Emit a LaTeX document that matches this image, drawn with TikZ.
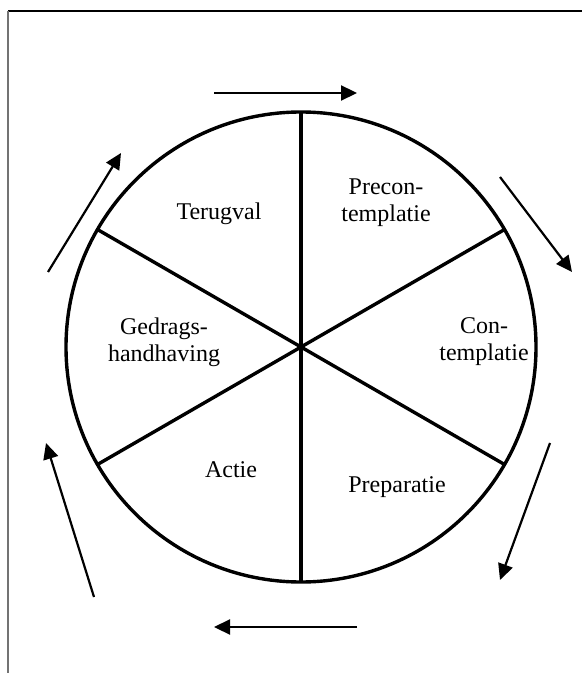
\documentclass[tikz,border=0pt]{standalone}
\usepackage{fontspec}
\setmainfont{Liberation Serif}
\usetikzlibrary{arrows.meta}

\begin{document}
\begin{tikzpicture}[
    x=0.5pt, y=-0.5pt,
    >={Triangle[length=8pt, width=7.5pt]},
    font=\fontsize{12}{13.5}\selectfont,
    wheel/.style={
        draw=black, line width=1.7pt,
        circle, minimum size=235pt,
        inner sep=0pt, outer sep=0pt
    },
    phase/.style={
        align=center, text=black,
        inner sep=1pt
    },
    spoke/.style={
        draw=black, line width=1.7pt
    },
    cycle/.style={
        ->, draw=black, line width=1.1pt
    }
]

\useasboundingbox (0,0) rectangle (582,673);
\draw[line width=1pt] (8,11) -- (582,11);
\draw[black!55, line width=1.2pt] (8,11) -- (8,673);

\node[wheel] (wheel) at (301,347) {};
\draw[spoke] (wheel.90) -- (wheel.270);
\draw[spoke] (wheel.150) -- (wheel.330);
\draw[spoke] (wheel.30) -- (wheel.210);

\node[phase] (terug) at (219,214) {Terugval};
\node[phase] (precon) at (386,203) {Precon-\\templatie};
\node[phase] (con) at (484,342) {Con-\\templatie};
\node[phase] (prep) at (397,487) {Preparatie};
\node[phase] (actie) at (231,470) {Actie};
\node[phase] (gedrag) at (164,342) {Gedrags-\\handhaving};

% pijlen rond het wiel
\coordinate (topA) at (214,93);
\coordinate (topB) at (357,93);
\coordinate (ruA) at (500,177);
\coordinate (ruB) at (572,272);
\coordinate (rlA) at (550,443);
\coordinate (rlB) at (500,580);
\coordinate (botA) at (357,627);
\coordinate (botB) at (214,627);
\coordinate (llA) at (94,597);
\coordinate (llB) at (46,443);
\coordinate (luA) at (48,272);
\coordinate (luB) at (121,153);

\draw[cycle] (topA) -- (topB);
\draw[cycle] (ruA) -- (ruB);
\draw[cycle] (rlA) -- (rlB);
\draw[cycle] (botA) -- (botB);
\draw[cycle] (llA) -- (llB);
\draw[cycle] (luA) -- (luB);

\end{tikzpicture}
\end{document}
